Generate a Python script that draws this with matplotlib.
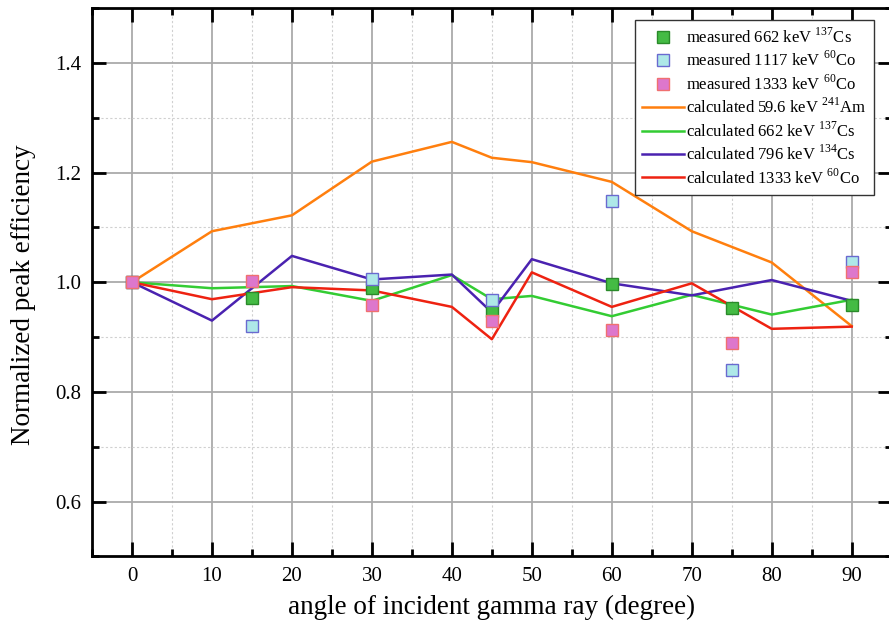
import matplotlib
matplotlib.use("Agg")
import numpy as np
import matplotlib.pyplot as plt
from matplotlib.ticker import MultipleLocator

plt.rcParams['font.family'] = ['Liberation Serif', 'DejaVu Serif']
plt.rcParams['mathtext.fontset'] = 'custom'
plt.rcParams['mathtext.rm'] = 'Liberation Serif'

# calculated curves
calc_angle = [0, 10, 20, 30, 40, 45, 50, 60, 70, 80, 90]
calc_am241 = [1.000, 1.093, 1.122, 1.220, 1.256, 1.227, 1.219, 1.183, 1.093, 1.036, 0.920]
calc_cs137 = [1.000, 0.989, 0.993, 0.966, 1.013, 0.969, 0.975, 0.938, 0.977, 0.941, 0.968]
calc_cs134 = [1.000, 0.930, 1.048, 1.005, 1.014, 0.945, 1.042, 0.998, 0.976, 1.004, 0.966]
calc_co1333 = [1.000, 0.969, 0.991, 0.985, 0.955, 0.896, 1.018, 0.955, 0.998, 0.915, 0.919]

# measured points
meas_angle = [0, 15, 30, 45, 60, 75, 90]
meas_cs662 = [1.000, 0.971, 0.989, 0.947, 0.996, 0.953, 0.959]
meas_co1117 = [1.000, 0.920, 1.005, 0.968, 1.148, 0.839, 1.036]
meas_co1333 = [1.000, 1.002, 0.959, 0.930, 0.913, 0.889, 1.018]

fig = plt.figure(figsize=(8.89, 6.23), dpi=100)
ax = fig.add_axes([0.1035, 0.107, 0.8995, 0.880])

ax.plot(calc_angle, calc_am241, color='#ff7f0e', lw=1.8, label='calculated 59.6 keV $^{241}$Am', zorder=3)
ax.plot(calc_angle, calc_cs137, color='#33cc33', lw=1.8, label='calculated 662 keV $^{137}$Cs', zorder=3)
ax.plot(calc_angle, calc_cs134, color='#4a22b0', lw=1.8, label='calculated 796 keV $^{134}$Cs', zorder=3)
ax.plot(calc_angle, calc_co1333, color='#ee2211', lw=1.8, label='calculated 1333 keV $^{60}$Co', zorder=3)

ax.plot(meas_angle, meas_cs662, 's', ms=8.5, mfc='#44bb44', mec='#2a8a2a', mew=1.0,
        label='measured 662 keV $^{137}$Cs', zorder=5)
ax.plot(meas_angle, meas_co1117, 's', ms=8.5, mfc='#aee8e8', mec='#6a6ad0', mew=1.0,
        label='measured 1117 keV $^{60}$Co', zorder=5)
ax.plot(meas_angle, meas_co1333, 's', ms=8.5, mfc='#dd77cc', mec='#f07070', mew=1.0,
        label='measured 1333 keV $^{60}$Co', zorder=6)

ax.set_xlim(-5, 95)
ax.set_ylim(0.5, 1.5)
ax.xaxis.set_major_locator(MultipleLocator(10))
ax.xaxis.set_minor_locator(MultipleLocator(5))
ax.yaxis.set_major_locator(MultipleLocator(0.2))
ax.yaxis.set_minor_locator(MultipleLocator(0.1))
ax.set_xticks(np.arange(0, 91, 10))
ax.set_yticks([0.6, 0.8, 1.0, 1.2, 1.4])

ax.grid(which='major', color='#aaaaaa', lw=1.3, ls='-', zorder=0)
ax.grid(which='minor', color='#d0d0d0', lw=0.8, ls=(0, (2, 2)), zorder=0)
ax.set_axisbelow(True)

ax.tick_params(which='both', direction='in', top=True, right=True, width=2, labelsize=15, pad=8)
ax.tick_params(which='major', length=10)
ax.tick_params(which='minor', length=5)
for s in ax.spines.values():
    s.set_linewidth(2)

ax.set_xlabel('angle of incident gamma ray (degree)', fontsize=19.5, labelpad=6)
ax.set_ylabel('Normalized peak efficiency', fontsize=19.5, labelpad=6)
ax.yaxis.set_label_coords(-0.0705, 0.477)

handles, labels = ax.get_legend_handles_labels()
order = [4, 5, 6, 0, 1, 2, 3]
leg = ax.legend([handles[i] for i in order], [labels[i] for i in order],
                loc='upper right', bbox_to_anchor=(0.984, 0.988), fontsize=12,
                frameon=True, fancybox=False, edgecolor='#333333', framealpha=1,
                handlelength=2.5, handletextpad=0.15, borderpad=0.45, labelspacing=0.25,
                borderaxespad=0.3)
leg.get_frame().set_linewidth(1.0)

fig.savefig('out.png', dpi=100)
